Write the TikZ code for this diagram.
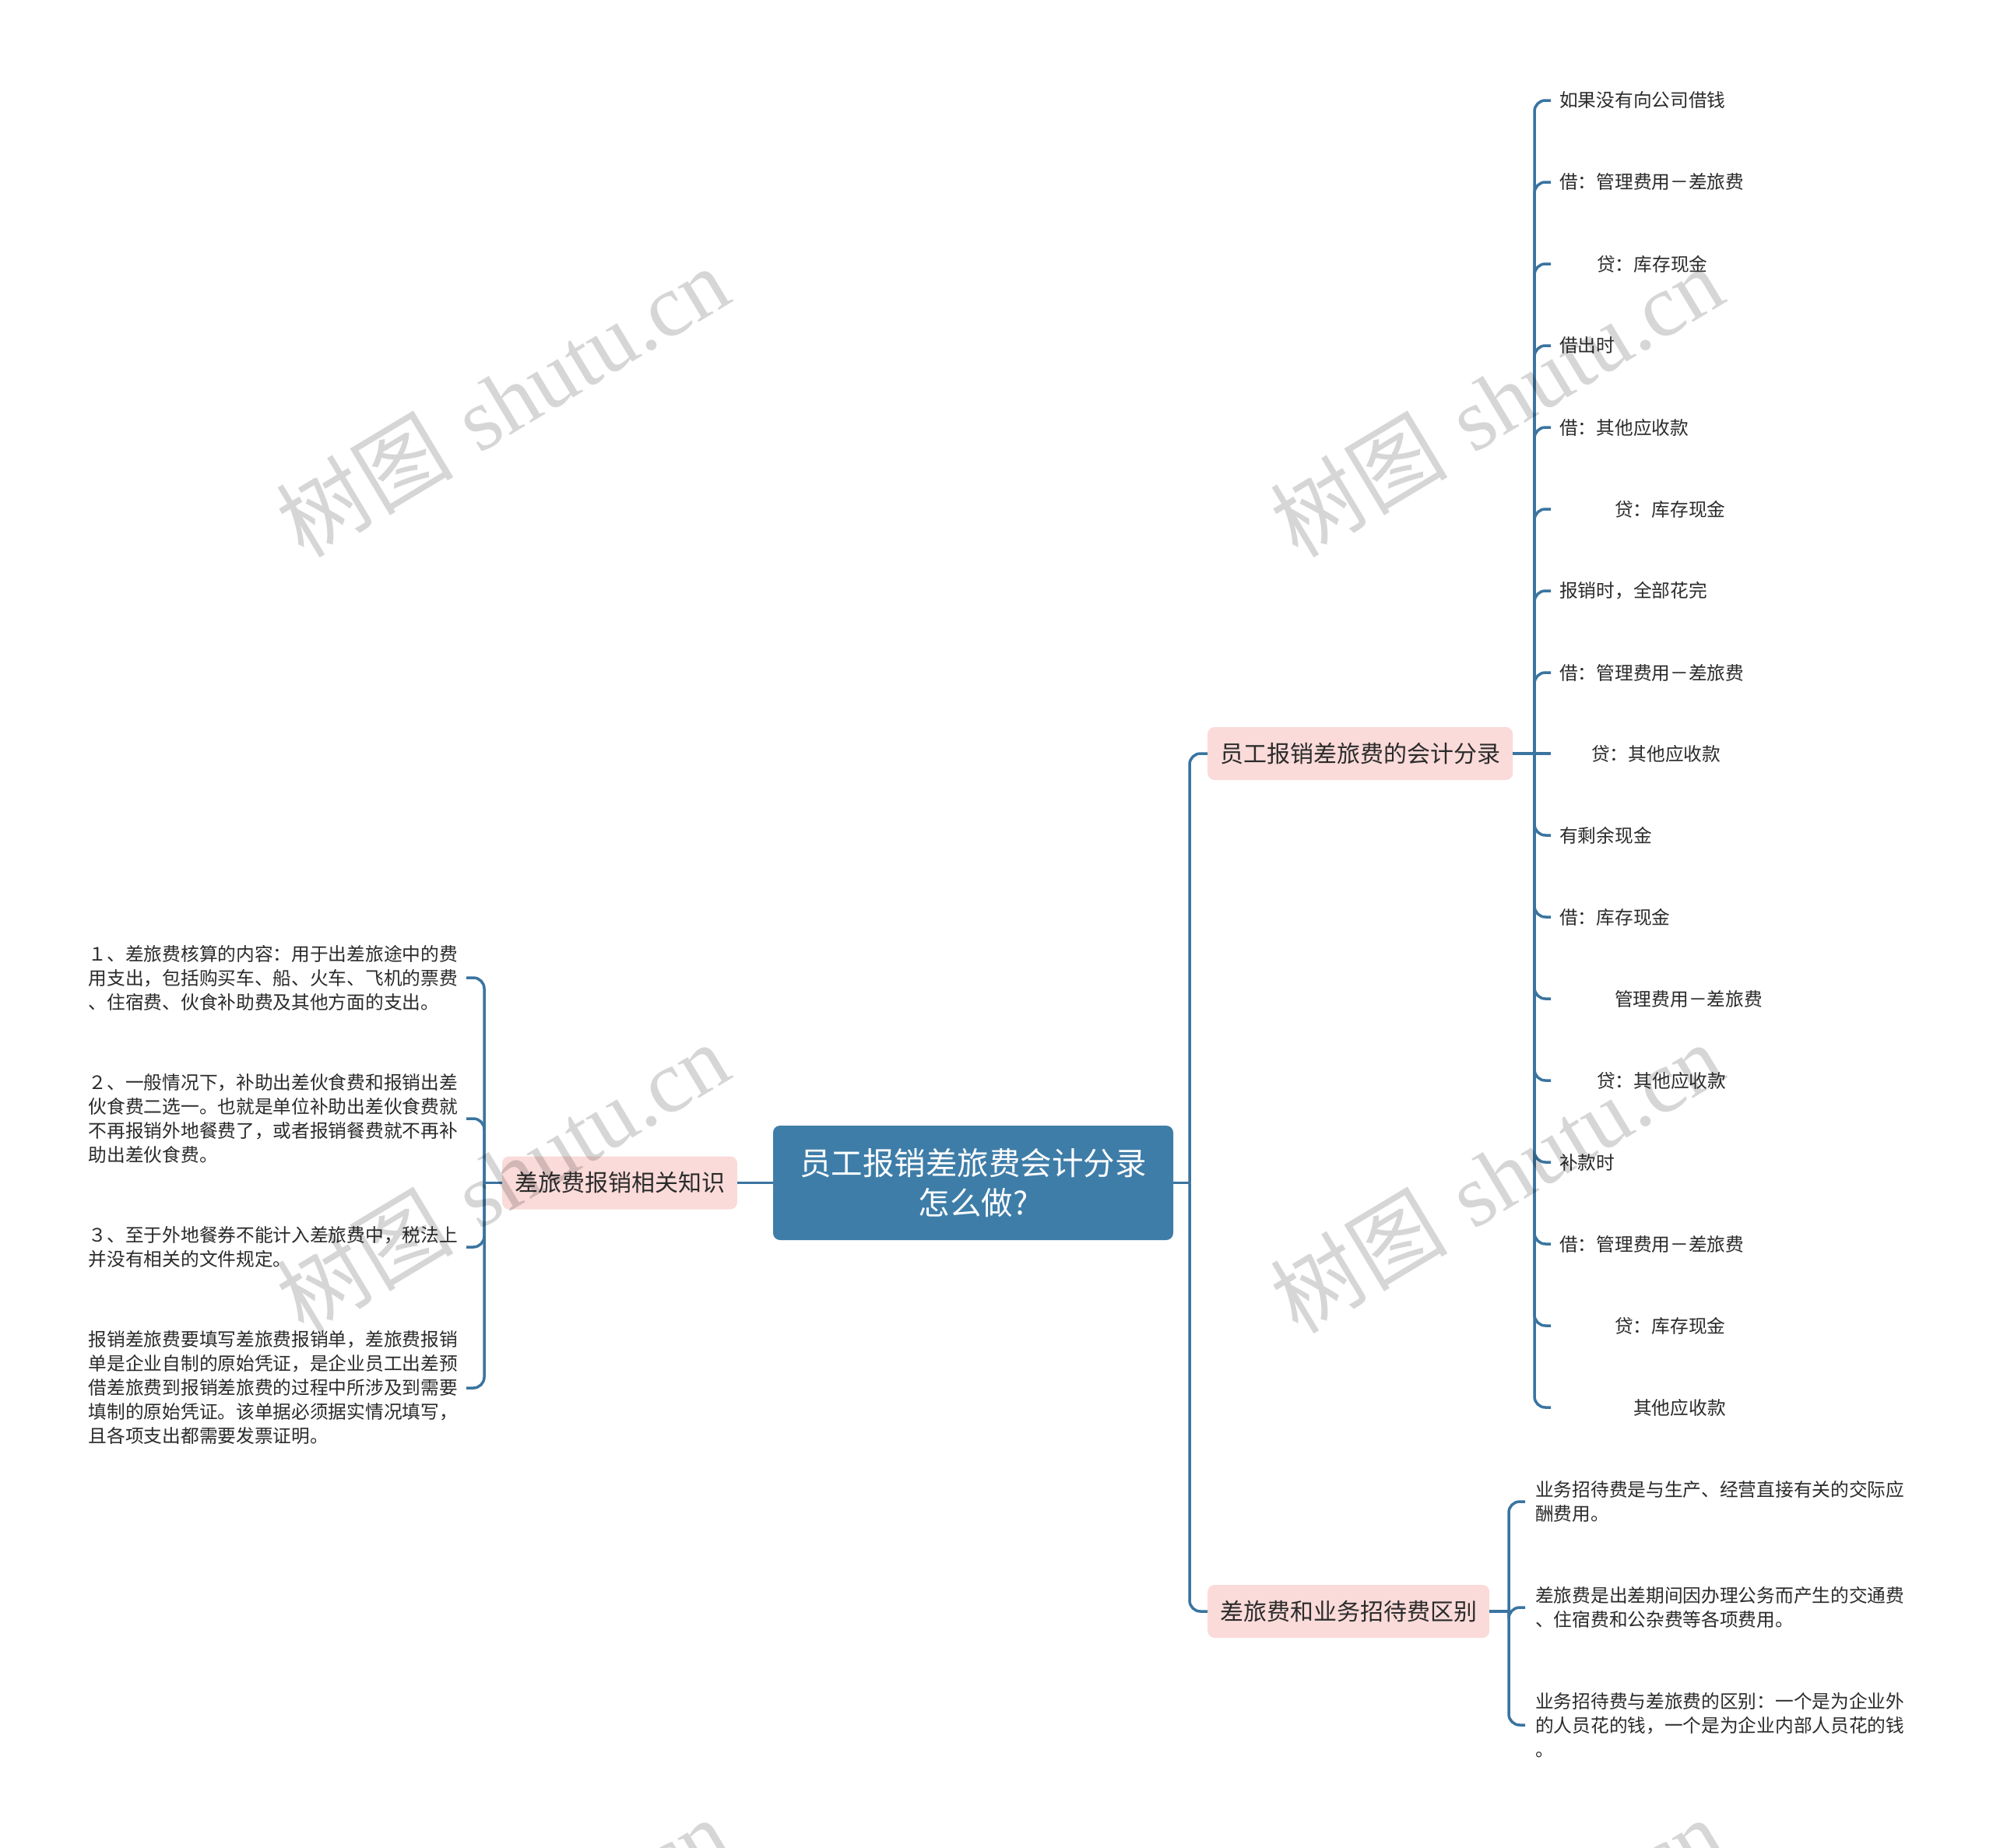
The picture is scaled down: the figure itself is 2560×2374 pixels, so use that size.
\documentclass[tikz,border=0pt]{standalone}
\usepackage{fontspec}
\newfontfamily\cjk{Noto Sans CJK SC}
\newfontfamily\wmserif{Liberation Serif}
\definecolor{lineblue}{HTML}{3A74A0}
\definecolor{rootblue}{HTML}{3E7DA8}
\definecolor{pinkfill}{HTML}{FADBD9}
\definecolor{txt}{HTML}{2B2B2B}
\tikzset{
  conn/.style={draw=lineblue, line width=3.5pt, rounded corners=14pt},
  rootbox/.style={fill=rootblue, rounded corners=9pt, text=white,
    font=\cjk\fontsize{40.5}{51}\selectfont, align=center,
    minimum width=514pt, minimum height=147pt, inner sep=0pt},
  subbox/.style={fill=pinkfill, rounded corners=9pt, text=txt,
    font=\cjk\fontsize{30}{36}\selectfont, inner xsep=16pt, inner ysep=0pt,
    minimum height=68pt},
  leafnode/.style={text=txt, font=\cjk\fontsize{23.7}{31}\selectfont,
    inner xsep=11pt, inner ysep=0pt},
  leafpara/.style={leafnode, align=left},
  wmark/.style={rotate=31, text=black, text opacity=0.16,
    font=\fontsize{114}{124}\selectfont, inner sep=0pt}
}
\begin{document}
\begin{tikzpicture}[x=1pt, y=-1pt]
\useasboundingbox (0,0) rectangle (2560,2374);
\fill[white] (0,0) rectangle (2560,2374);

% root and main branches
\node[rootbox] (root) at (1250,1519.5) {员工报销差旅费会计分录\\怎么做?};
\node[subbox] (L) at (796,1519.5) {差旅费报销相关知识};
\node[subbox, anchor=west] (R1) at (1551,968) {员工报销差旅费的会计分录};
\node[subbox, anchor=west] (R2) at (1551,2070) {差旅费和业务招待费区别};

% left leaves
\node[leafpara, anchor=east] (L1) at (599,1256) {１、差旅费核算的内容：用于出差旅途中的费\\用支出，包括购买车、船、火车、飞机的票费\\、住宿费、伙食补助费及其他方面的支出。};
\node[leafpara, anchor=east] (L2) at (599,1437) {２、一般情况下，补助出差伙食费和报销出差\\伙食费二选一。也就是单位补助出差伙食费就\\不再报销外地餐费了，或者报销餐费就不再补\\助出差伙食费。};
\node[leafpara, anchor=east] (L3) at (599,1602) {３、至于外地餐券不能计入差旅费中，税法上\\并没有相关的文件规定。};
\node[leafpara, anchor=east] (L4) at (599,1783) {报销差旅费要填写差旅费报销单，差旅费报销\\单是企业自制的原始凭证，是企业员工出差预\\借差旅费到报销差旅费的过程中所涉及到需要\\填制的原始凭证。该单据必须据实情况填写，\\且各项支出都需要发票证明。};

% right leaves of R1
\node[leafnode, anchor=west] (a1) at (1992,129) {如果没有向公司借钱};
\node[leafnode, anchor=west] (a2) at (1992,234) {借：管理费用－差旅费};
\node[leafnode, anchor=west] (a3) at (1992,339) {\hspace*{48pt}贷：库存现金};
\node[leafnode, anchor=west] (a4) at (1992,444) {借出时};
\node[leafnode, anchor=west] (a5) at (1992,549) {借：其他应收款};
\node[leafnode, anchor=west] (a6) at (1992,654) {\hspace*{71pt}贷：库存现金};
\node[leafnode, anchor=west] (a7) at (1992,759) {报销时，全部花完};
\node[leafnode, anchor=west] (a8) at (1992,864) {借：管理费用－差旅费};
\node[leafnode, anchor=west] (a9) at (1992,968) {\hspace*{41pt}贷：其他应收款};
\node[leafnode, anchor=west] (a10) at (1992,1073) {有剩余现金};
\node[leafnode, anchor=west] (a11) at (1992,1178) {借：库存现金};
\node[leafnode, anchor=west] (a12) at (1992,1283) {\hspace*{71pt}管理费用－差旅费};
\node[leafnode, anchor=west] (a13) at (1992,1388) {\hspace*{48pt}贷：其他应收款};
\node[leafnode, anchor=west] (a14) at (1992,1493) {补款时};
\node[leafnode, anchor=west] (a15) at (1992,1598) {借：管理费用－差旅费};
\node[leafnode, anchor=west] (a16) at (1992,1703) {\hspace*{71pt}贷：库存现金};
\node[leafnode, anchor=west] (a17) at (1992,1808) {\hspace*{95pt}其他应收款};

% right leaves of R2
\node[leafpara, anchor=west, inner xsep=13pt] (b1) at (1959,1929) {业务招待费是与生产、经营直接有关的交际应\\酬费用。};
\node[leafpara, anchor=west, inner xsep=13pt] (b2) at (1959,2065) {差旅费是出差期间因办理公务而产生的交通费\\、住宿费和公杂费等各项费用。};
\node[leafpara, anchor=west, inner xsep=13pt] (b3) at (1959,2216) {业务招待费与差旅费的区别：一个是为企业外\\的人员花的钱，一个是为企业内部人员花的钱\\。};

% junction points
\coordinate (rj) at (1528,1519.5);
\coordinate (lj) at (622,1519.5);
\coordinate (j1) at (1971,968);
\coordinate (j2) at (1938,2070);

% connectors
\draw[conn] (root.west) -- (L.east);
\draw[conn] (root.east) -- (rj);
\draw[conn] (rj) |- (R1.west);
\draw[conn] (rj) |- (R2.west);

\draw[conn] (L.west) -- (lj);
\foreach \n in {L1,L2,L3,L4} \draw[conn] (lj) |- (\n.east);

\draw[conn] (R1.east) -- (j1);
\foreach \n in {a1,a2,a3,a4,a5,a6,a7,a8,a10,a11,a12,a13,a14,a15,a16,a17} \draw[conn] (j1) |- (\n.west);
\draw[conn] (j1) -- (a9.west);

\draw[conn] (R2.east) -- (j2);
\foreach \n in {b1,b2,b3} \draw[conn] (j2) |- (\n.west);

% watermarks
\begin{scope}
\clip (0,0) rectangle (2560,2374);
\foreach \wx/\wy [count=\i] in {645/515, 1922/515, 645/1512, 1922/1512, 645/2508, 1922/2508}
  \node[wmark] (wm\i) at (\wx,\wy) {{\cjk 树图} {\wmserif shutu.cn}};
\end{scope}
\end{tikzpicture}
\end{document}
